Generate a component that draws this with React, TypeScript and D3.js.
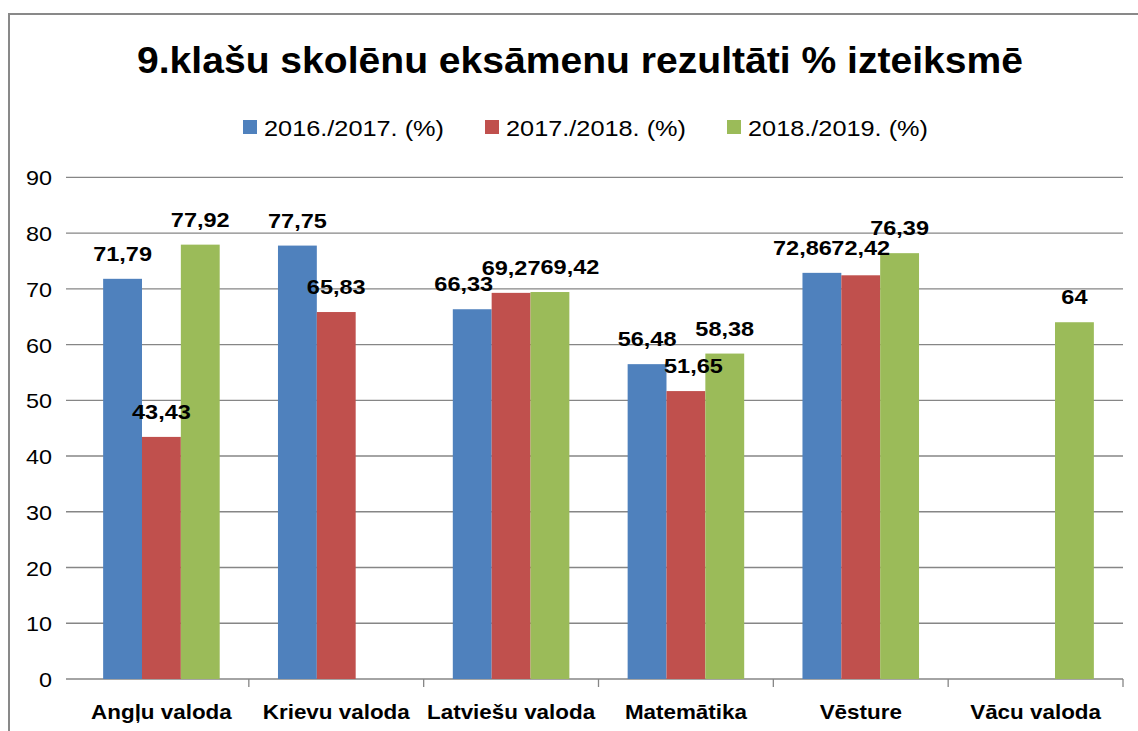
import React from "react";
import * as d3 from "d3";

const categories = ["Angļu valoda", "Krievu valoda", "Latviešu valoda", "Matemātika", "Vēsture", "Vācu valoda"];
const seriesNames = ["2016./2017. (%)", "2017./2018. (%)", "2018./2019. (%)"];
const values2016: (number | null)[] = [71.79, 77.75, 66.33, 56.48, 72.86, null];
const values2017: (number | null)[] = [43.43, 65.83, 69.27, 51.65, 72.42, null];
const values2018: (number | null)[] = [77.92, null, 69.42, 58.38, 76.39, 64];
const yTicks = [0, 10, 20, 30, 40, 50, 60, 70, 80, 90];
const title = "9.klašu skolēnu eksāmenu rezultāti % izteiksmē";

const colors = ["#4F81BD", "#C0504D", "#9BBB59"];
const seriesValues = [values2016, values2017, values2018];

// layout (manual label nudges as in the reference)
const labelNudge: Record<string, [number, number]> = {
  "2|0": [-8.5, 0],
  "2|2": [20, 0],
  "3|1": [7.5, 0],
  "4|0": [-19.5, 0],
  "4|1": [0, 2],
};

const W = 1138;
const H = 731;
const SX = 1.17;
const FONT = "'Liberation Sans', Arial, sans-serif";

const fmt = (v: number) => String(v).replace(".", ",");

export default function App() {
  const x = d3.scaleBand<string>().domain(categories).range([74, 1123]).padding(0);
  const xi = d3.scaleBand<string>().domain(seriesNames).range([0, x.bandwidth()]).paddingInner(0).paddingOuter(0.75);
  const y = d3.scaleLinear().domain([0, 90]).range([679, 177.3]);

  const legendX = (i: number) => 243 + i * 242;

  return (
    <div style={{ position: "fixed", left: 0, top: 0, width: W, height: H, background: "#fff" }}>
      <svg width={W} height={H} style={{ display: "block" }} fontFamily={FONT}>
        <rect x={0} y={0} width={W} height={H} fill="#fff" />
        <rect x={9} y={14} width={W + 20} height={H + 20} fill="#fff" stroke="#898989" strokeWidth={2} />
        {/* title */}
        <text x={137} y={73} fontSize={36} fontWeight="bold" textLength={886} lengthAdjust="spacingAndGlyphs" fill="#000">
          {title}
        </text>
        {/* legend */}
        {seriesNames.map((s, i) => (
          <g key={s}>
            <rect x={legendX(i)} y={120} width={14} height={14} fill={colors[i]} />
            <text x={legendX(i) + 21} y={136} fontSize={22.5} textLength={180} lengthAdjust="spacingAndGlyphs" fill="#000">
              {s}
            </text>
          </g>
        ))}
        {/* gridlines */}
        {yTicks.map((t) => (
          <g key={t}>
            <line x1={66} x2={1123} y1={y(t)} y2={y(t)} stroke="#868686" strokeWidth={1.3} />
            <text
              transform={`translate(52,${y(t) + 8}) scale(${SX},1)`}
              textAnchor="end"
              fontSize={20}
              fill="#000"
            >
              {t}
            </text>
          </g>
        ))}
        {/* category ticks */}
        {categories.map((c) => (
          <line
            key={c}
            x1={(x(c) as number) + x.bandwidth()}
            x2={(x(c) as number) + x.bandwidth()}
            y1={679}
            y2={687}
            stroke="#868686"
            strokeWidth={1.3}
          />
        ))}
        {/* bars */}
        {seriesNames.map((s, si) =>
          categories.map((c, ci) => {
            const v = seriesValues[si][ci];
            if (v == null) return null;
            const bx = (x(c) as number) + (xi(s) as number);
            return (
              <rect key={s + c} x={bx} y={y(v)} width={xi.bandwidth()} height={y(0) - y(v)} fill={colors[si]} />
            );
          })
        )}
        {/* data labels */}
        {seriesNames.map((s, si) =>
          categories.map((c, ci) => {
            const v = seriesValues[si][ci];
            if (v == null) return null;
            const n = labelNudge[`${ci}|${si}`] || [0, 0];
            const cx = (x(c) as number) + (xi(s) as number) + xi.bandwidth() / 2 + n[0];
            return (
              <text
                key={"l" + s + c}
                transform={`translate(${cx},${y(v) - 18 - n[1]}) scale(1.12,1)`}
                textAnchor="middle"
                fontSize={21}
                fontWeight="bold"
                fill="#000"
              >
                {fmt(v)}
              </text>
            );
          })
        )}
        {/* category labels */}
        {categories.map((c) => (
          <text
            key={"c" + c}
            transform={`translate(${(x(c) as number) + x.bandwidth() / 2},719) scale(1.15,1)`}
            textAnchor="middle"
            fontSize={19.5}
            fontWeight="bold"
            fill="#000"
          >
            {c}
          </text>
        ))}
      </svg>
    </div>
  );
}
